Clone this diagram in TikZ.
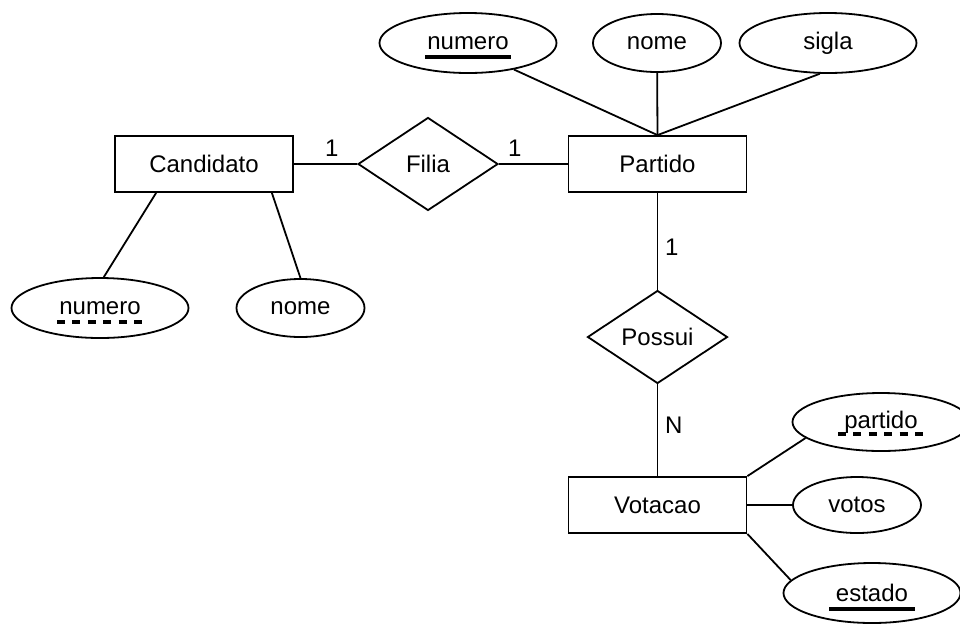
\documentclass[tikz,border=0pt]{standalone}
\usepackage{fontspec}
\setmainfont{Liberation Sans}
\usepackage{tikz}
\usetikzlibrary{shapes.geometric}
\usetikzlibrary{positioning}
\tikzset{
  every node/.style={font=\fontsize{12}{14}\selectfont},
  entity/.style={draw,rectangle,minimum width=89pt,minimum height=28pt,inner sep=0pt},
  relation/.style={draw,diamond,minimum width=70pt,minimum height=46.5pt,inner sep=0pt},
  attr/.style={draw,ellipse,minimum width=88.5pt,minimum height=30pt,inner sep=0pt},
  shortattr/.style={draw,ellipse,minimum width=64pt,minimum height=29pt,inner sep=0pt},
  keyline/.style={line width=2pt},
  partkey/.style={line width=2pt,dash pattern=on 4pt off 3.7pt},
}

\begin{document}
\begin{tikzpicture}[x=0.5pt,y=-0.5pt,line width=0.9pt]
        \useasboundingbox (0,0) rectangle (960,623);

        % entities and relationships
        \node[entity]   (candidato) at (204,164)   {Candidato};
        \node[relation] (filia)     at (428,164)   {Filia};
        \node[entity]   (partido)   at (657.5,164) {Partido};
        \node[relation] (possui)    at (657.5,337) {Possui};
        \node[entity]   (votacao)   at (657.5,505) {Votacao};

        % attributes
        \node[attr]      (pnumero) at (468,43)  {numero};
        \node[shortattr] (pnome)   at (657,43)  {nome};
        \node[attr]      (psigla)  at (828,43)  {sigla};
        \node[attr]      (cnumero) at (100,308) {numero};
        \node[shortattr] (cnome)   at (300.5,308) {nome};
        \node[attr,minimum height=29pt] (vpartido) at (881,422) {partido};
        \node[shortattr,minimum height=28pt] (vvotos) at (857,505) {votos};
        \node[attr]      (vestado) at (872,593) {estado};

        % keys
        \draw[keyline] ([shift={(-43,7.5)}]pnumero.base) -- ([shift={(43,7.5)}]pnumero.base);
        \draw[keyline] ([shift={(-43,7.5)}]vestado.base) -- ([shift={(43,7.5)}]vestado.base);
        \draw[partkey] ([shift={(-43,7.5)}]cnumero.base) -- ([shift={(43,7.5)}]cnumero.base);
        \draw[partkey] ([shift={(-43,6)}]vpartido.base) -- ([shift={(43,6)}]vpartido.base);

        \path
          (candidato) edge node [above,pos=0.6] {1} (filia)
          (filia) edge node [above,pos=0.23] {1} (partido)
          (partido) edge node [right,pos=0.56] {1} (possui)
          (possui) edge node [right,pos=0.44] {N} (votacao);

        \path
          (pnumero.-30) edge (partido.north)
          (pnome) edge (partido.north)
          (psigla.-105) edge (partido.north)
          ([xshift=21pt]candidato.south west) edge (cnumero.83)
          ([xshift=-11pt]candidato.south east) edge (cnome.north)
          (votacao.north east) edge (vpartido.192)
          (votacao.east) edge (vvotos)
          (votacao.south east) edge (vestado.171);
    \end{tikzpicture}
\end{document}
